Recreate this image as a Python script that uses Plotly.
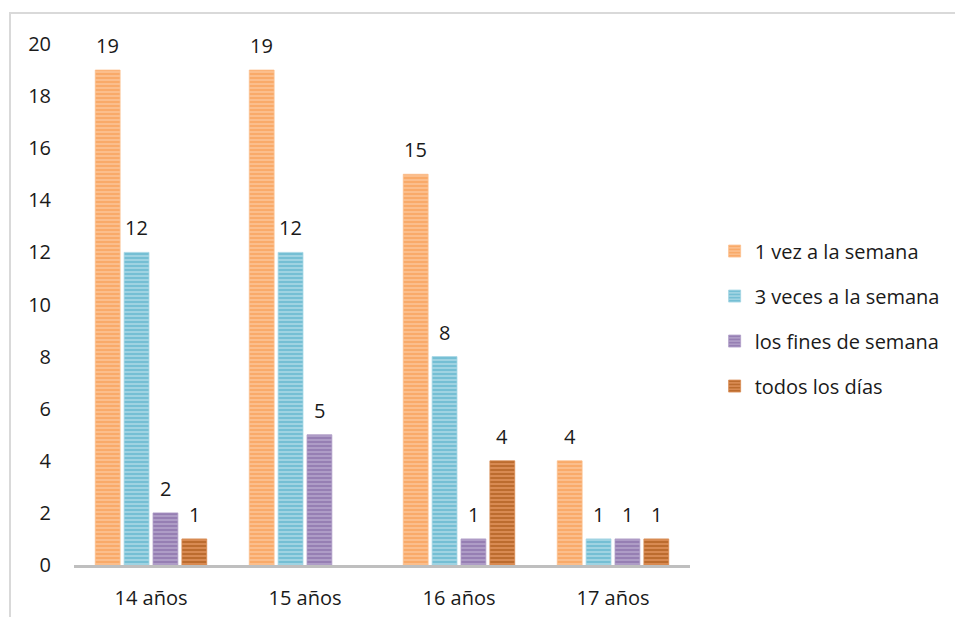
import plotly.graph_objects as go

categories = ["14 años", "15 años", "16 años", "17 años"]
series_names = ["1 vez a la semana", "3 veces a la semana", "los fines de semana", "todos los días"]
vals_1vez = [19, 19, 15, 4]
vals_3veces = [12, 12, 8, 1]
vals_fines = [2, 5, 1, 1]
vals_todos = [1, None, 4, 1]
y_ticks = [0, 2, 4, 6, 8, 10, 12, 14, 16, 18, 20]

series_values = [vals_1vez, vals_3veces, vals_fines, vals_todos]
bg_colors = ["#FBBE8C", "#9FD3E2", "#AE9CC6", "#D88A52"]
fg_colors = ["#F79646", "#4BACC6", "#7E62A0", "#A04E0C"]

FONT = "Open Sans"
fig = go.Figure()
for name, vals, bg, fg in zip(series_names, series_values, bg_colors, fg_colors):
    fig.add_trace(go.Bar(
        x=categories, y=vals, name=name, legendgroup=name,
        marker=dict(color=bg, line=dict(width=0.8, color=bg),
                    pattern=dict(shape="-", fgcolor=fg, bgcolor=bg, size=4, solidity=0.5,
                                 fillmode="overlay")),
    ))

bargap = 0.25
n = len(series_values)
slot = (1 - bargap) / n
for j, vals in enumerate(series_values):
    for i, v in enumerate(vals):
        if v is None:
            continue
        fig.add_annotation(x=i - (1 - bargap) / 2 + (j + 0.5) * slot, y=v, xref="x", yref="y",
                           text=str(v), showarrow=False, yanchor="bottom", yshift=9,
                           font=dict(family=FONT, size=20, color="#1a1a1a"))

fig.add_shape(type="rect", xref="paper", yref="paper", x0=-0.1039, x1=1.6, y0=-0.3, y1=1.0595,
              line=dict(color="#D9D9D9", width=2), fillcolor="rgba(0,0,0,0)", layer="below")

fig.update_layout(
    width=955, height=617,
    margin=dict(l=74, r=265, t=44, b=52, autoexpand=False),
    paper_bgcolor="white", plot_bgcolor="white",
    barmode="group", bargap=bargap, bargroupgap=0.14,
    font=dict(family=FONT, size=20, color="#1a1a1a"),
    showlegend=True,
    legend=dict(x=1.04, y=0.64, xanchor="left", yanchor="top",
                font=dict(family=FONT, size=20, color="#1a1a1a"),
                traceorder="grouped", tracegroupgap=16, itemwidth=30),
    xaxis=dict(type="category", showline=True, linecolor="#BFBFBF", linewidth=3, automargin=False,
               ticks="", showgrid=False, tickfont=dict(size=20), ticklabelstandoff=13),
    yaxis=dict(range=[0, 20], tickvals=y_ticks, showline=False, showgrid=False, zeroline=False,
               automargin=False, ticks="", tickfont=dict(size=20), ticklabelstandoff=22),
)

fig.write_html("out.html")
